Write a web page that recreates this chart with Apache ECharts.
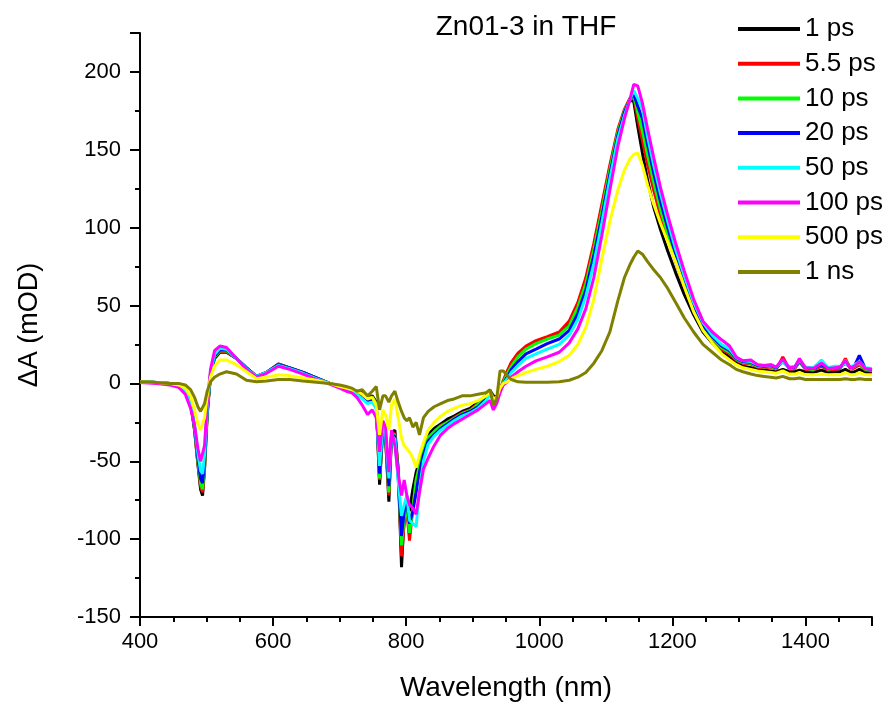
<!DOCTYPE html>
<html>
<head>
<meta charset="utf-8">
<script src="https://cdn.jsdelivr.net/npm/echarts@6/dist/echarts.min.js"></script>
<style>
html,body{margin:0;padding:0;background:#fff;}
#chart{width:891px;height:707px;}
</style>
</head>
<body>
<div id="chart"></div>
<script>
const wavelengths = [400,425,445,458,468,476,482,487,491,494,
497,501,506,512,520,530,545,560,575,590,
608,625,645,665,685,700,710,718,726,734,
742,749,755,760,765,769,774,778,783,788,
793,797,801,805,810,815,820,826,833,842,
852,862,872,884,896,908,920,926,931,936,
941,946,952,958,968,980,995,1012,1030,1045,
1058,1070,1082,1094,1106,1118,1128,1136,1142,1148,
1155,1163,1172,1182,1193,1205,1218,1232,1246,1260,
1274,1286,1296,1306,1318,1328,1338,1348,1356,1366,
1376,1384,1391,1400,1412,1424,1434,1444,1452,1460,
1468,1474,1481,1490,1500];

const s1ps = [1,0.5,0,-1,-4,-12,-30,-52,-68,-72,
-55,-20,5,16,20,20,16,10,4.5,7,
12.5,10,7,3.5,0,-2,-3,-4,-5,-6,
-9,-8,-12,-65,-28,-35,-76,-32,-30,-55,
-118,-85,-78,-82,-68,-57,-50,-40,-33,-29,
-26,-23,-21,-18,-16,-12,-8,-4.5,-8,-9,
-4,1,7,13,18,23,26.5,29,32,39,
51,66,88,113,138,161,174,182,181,165,
148,130,113,99,85,71,57,44,33,26,
20,17,13,11,10,9,8.5,8,7.5,9,
7.5,7.5,8.5,7.5,7,8.5,7,7.5,7.5,9,
7,7.5,9,7,7];

const s55ps = [1,0.5,0,-1,-4,-12,-30,-51,-66,-70,
-54,-19,6,17,20.5,20.5,16,10,4.5,7,
12.3,10,7,3.5,0,-2,-3,-4,-5,-6.5,
-9.5,-8.5,-13,-62,-28,-35,-72,-33,-32,-56,
-111,-90,-82,-101,-80,-62,-53,-43,-35,-31,
-27,-25,-22,-19,-17,-13,-9,-5,-9,-10,
-4.5,2,8,13.5,19.5,24,27.5,30,33,40,
52,68,90,115,140,163,176,183,184,170,
156,140,124,108,93,78,62,47,35,28,
22,19,15,13,12.5,10.5,10,10.5,9,17,
9,9.5,14,9,8.5,11,8.5,9,9.5,16,
9,10,12,8.5,8];

const s10ps = [1,0.5,0,-1,-4,-12,-29,-50,-64,-68,
-53,-19,6,17,21,21,16,10,4.5,7,
12,10,7,3.5,0,-2,-3,-4.5,-5.5,-7,
-10,-9,-13,-61,-28,-34,-70,-33,-33,-58,
-104,-86,-80,-96,-80,-62,-53,-43,-35,-31,
-27.5,-25,-22.5,-19.5,-17.5,-13.5,-9,-5,-9.5,-10.5,
-5,1,6,11,17,22,25.5,28.5,31,37,
49,64,86,111,137,161,175,182,185,174,
162,146,129,112,96,80,64,48,36,29,
23,20,15.5,13.5,13,11,10.5,11,9.5,15,
9.5,10,14.5,9.5,9,12,9,10,10,15,
9.5,11,13,9,8.5];

const s20ps = [1,0.5,0,-1,-4.5,-12,-28,-48,-61,-64,
-50,-18,6.5,17.5,21.5,21.5,16,10,4.5,7,
12,10,7,3.5,0,-2.5,-3.5,-5,-6,-8,
-11,-10,-14,-58,-27,-33,-66,-33,-34,-60,
-98,-82,-76,-90,-82,-70,-57,-46,-37,-33,
-29,-26,-23,-20,-18,-15,-10,-6,-10,-11,
-5,0,4,9,14,19,22,25.5,28.5,34,
45,60,82,107,134,159,174,182,186,178,
170,153,135,117,100,83,66,50,37,30,
24,21,16,14,13.5,11.5,11,11.5,10,14,
10,10.5,14.5,10,9.5,12,9.5,10.5,10.5,13,
10,11.5,18,9.5,9];

const s50ps = [1,0.5,0,-1.5,-5,-13,-27,-45,-56,-58,
-46,-16,7.5,18.5,22.5,22,16,9.5,4.5,7,
11.5,9.5,6.5,3,0,-2.5,-4,-5.5,-7,-10,
-13,-12,-16,-53,-27,-32,-61,-33,-36,-63,
-85,-78,-72,-88,-90,-92,-68,-50,-39,-34,
-30,-27,-24,-21,-19,-16,-11,-7,-11,-12,
-5.5,0,3,7,11.5,16,19,22,25,31,
41,56,77,103,131,157,172,182,188,183,
176,158,140,122,104,86,69,52,39,31,
25,22,16.5,14.5,14,12,11.5,12,10.5,14,
10.5,11,15,10.5,10,15,10,11,11,13,
10.5,12,14,10,9.5];

const s100ps = [0.5,0,-1,-2.5,-7,-16,-27,-42,-50,-50,
-40,-13,9,21,24,23,16,9,4,6.5,
11,9,6,2.5,-0.5,-3,-5,-6,-9,-14,
-20,-17,-22,-44,-24,-28,-57,-30,-40,-58,
-72,-62,-72,-78,-80,-84,-70,-55,-48,-40,
-33,-29,-26,-23,-20,-17,-13,-11,-17,-13,
-6,-1,1,4,7.5,11,14.5,17,20,26,
35,48,68,95,124,152,170,182,192,191,
180,163,145,126,108,90,72,54,40,33,
28,24,17,14.5,15,12,11.5,12,10.5,15.5,
10,10.5,16,10,9.5,13,9.5,10,10.5,14.5,
10,11,14,9.5,9];

const s500ps = [1,0.5,0,-1,-3,-8,-17,-26,-30,-30,
-22,-8,4,11,15,15,12,7.5,3,4,
5.5,5,3.5,2,0,-2,-3,-4,-5,-7,
-10,-9,-14,-33,-17,-20,-30,-14,-10,-22,
-35,-40,-42,-44,-48,-54,-46,-38,-30,-25,
-21,-18,-16,-14,-13,-11,-8,-6,-10,-9,
-3,0,1,3,5,7,9,11,14,18,
25,36,54,80,104,124,137,144,147,148,
140,127,115,103,91,78,62,46,34,26,
19,15,12,10,9,8,7.5,7,6.5,8,
6,6,7,5.5,5.5,6,5.5,5.5,5.5,7,
5.5,5.5,7,5.5,5.5];

const s1ns = [1,0.5,0,0,-1,-4,-9,-15,-18,-18,
-13,-5,1,4,6,7.5,6,2,1,1.5,
2.5,2.5,1.5,0.8,0,-1,-2,-3,-5,-4,
-8,-5,-2,-17,-8,-8,-12,-8,-5,-12,
-18,-22,-24,-22,-28,-25,-33,-22,-18,-15,
-13,-11,-10,-8,-8,-7,-6,-4,-14,-10,
8,8,5,2.5,1,0.8,0.8,0.8,1,2,
4,7,13,21,33,53,68,76,81,85,
83,78,73,68,61,52,42,33,25,20,
15,12,9,7.5,6,5,4.5,4,3.5,4.5,
3,3,3.5,2.5,2.5,2.5,2.5,2.5,2.5,3,
2.5,2.5,3,2.5,2.5];

const seriesNames = ['1 ps','5.5 ps','10 ps','20 ps','50 ps','100 ps','500 ps','1 ns'];
const seriesValues = [s1ps,s55ps,s10ps,s20ps,s50ps,s100ps,s500ps,s1ns];
const seriesColors = ['#000000','#ff0000','#00ff00','#0000ff','#00ffff','#ff00ff','#ffff00','#808000'];

const FONT = 'Liberation Sans, Arial, sans-serif';
const chart = echarts.init(document.getElementById('chart'), null, {renderer:'canvas'});

const series = seriesNames.map((name,i)=>({
  name: name,
  type: 'line',
  data: wavelengths.map((w,j)=>[w, seriesValues[i][j]]),
  symbol: 'none',
  smooth: false,
  animation: false,
  lineStyle: {color: seriesColors[i], width: 3},
  itemStyle: {color: seriesColors[i]},
  z: 2 + i
}));

chart.setOption({
  backgroundColor: '#ffffff',
  animation: false,
  title: {
    text: 'Zn01-3 in THF',
    left: 521, top: 8,
    textAlign: 'center',
    textStyle: {fontFamily: FONT, fontSize: 28, fontWeight: 'normal', color: '#000'}
  },
  legend: {
    orient: 'vertical',
    left: 733, top: 11,
    icon: 'rect',
    itemWidth: 62, itemHeight: 4,
    itemGap: 8.7,
    textStyle: {fontFamily: FONT, fontSize: 26, lineHeight: 26, color: '#000'},
    data: seriesNames
  },
  grid: {left: 140, right: 19, top: 33, bottom: 88, containLabel: false},
  xAxis: {
    type: 'value', min: 400, max: 1500, interval: 200,
    name: 'Wavelength (nm)', nameLocation: 'middle', nameGap: 57,
    nameTextStyle: {fontFamily: FONT, fontSize: 28, color: '#000'},
    axisLine: {show: true, onZero: false, lineStyle: {color: '#000', width: 2}},
    axisTick: {show: true, inside: false, length: 9, lineStyle: {color: '#000', width: 2}},
    minorTick: {show: true, splitNumber: 4, length: 5, lineStyle: {color: '#000', width: 2}},
    axisLabel: {fontFamily: FONT, fontSize: 22, color: '#000', margin: 14, showMaxLabel: false,
      formatter: v => String(v)},
    splitLine: {show: false}
  },
  yAxis: {
    type: 'value', min: -150, max: 225, interval: 50,
    name: 'ΔA (mOD)', nameLocation: 'middle', nameGap: 97, nameRotate: 90,
    nameTextStyle: {fontFamily: FONT, fontSize: 27, color: '#000'},
    axisLine: {show: true, onZero: false, lineStyle: {color: '#000', width: 2}},
    axisTick: {show: true, inside: false, length: 10, lineStyle: {color: '#000', width: 2}},
    minorTick: {show: true, splitNumber: 2, length: 5, lineStyle: {color: '#000', width: 2}},
    axisLabel: {fontFamily: FONT, fontSize: 22, color: '#000', margin: 19, showMaxLabel: false,
      formatter: v => String(v)},
    splitLine: {show: false}
  },
  series: series
});
</script>
</body>
</html>
